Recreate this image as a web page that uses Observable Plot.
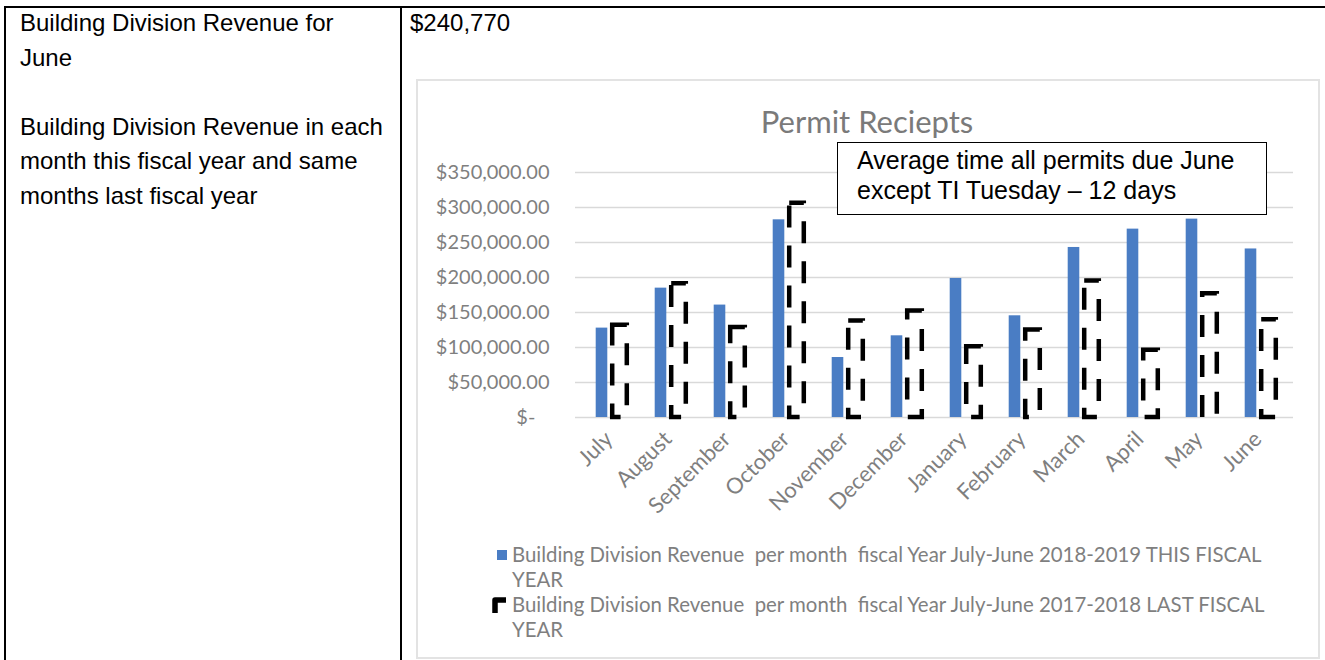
<!DOCTYPE html>
<html>
<head>
<meta charset="utf-8">
<script src="https://cdn.jsdelivr.net/npm/d3@7"></script>
<script src="https://cdn.jsdelivr.net/npm/@observablehq/plot@0.6"></script>
<style>
  html, body { margin: 0; padding: 0; background: #fff; }
  #page { position: relative; width: 1325px; height: 660px; overflow: hidden; background: #fff; }
  .abs { position: absolute; }
  .line { position: absolute; background: #000; }
  .doc { font-family: "Liberation Sans", Arial, sans-serif; font-size: 24px; line-height: 34.5px; color: #000; white-space: nowrap; }
  #chartbox { left: 416px; top: 79px; width: 900px; height: 576px; border: 2px solid #e3e3e3; }
  #title { left: 416px; width: 902px; top: 101px; text-align: center; font-family: Lato, sans-serif; font-size: 31px; line-height: 40px; color: #7a7a7a; }
  #note { left: 837px; top: 142px; width: 428px; height: 71px; border: 1.6px solid #000; background: #fff; }
  #noteText { position: absolute; left: 19px; top: 2px; width: 410px;
              font-family: "Liberation Sans", Arial, sans-serif; font-size: 25px; line-height: 30px; color: #000; white-space: nowrap; }
  .leg { position: absolute; left: 512px; font-family: Lato, sans-serif; font-size: 20.4px; line-height: 25px; color: #7f7f7f; white-space: pre; }
  #plot { left: 416px; top: 79px; }
</style>
</head>
<body>
<div id="page">
  <div class="line" style="left:4px; top:6px; width:1321px; height:2px;"></div>
  <div class="line" style="left:4px; top:6px; width:2px; height:654px;"></div>
  <div class="line" style="left:400px; top:6px; width:2px; height:654px;"></div>

  <div class="abs doc" style="left:20px; top:6px;">Building Division Revenue for<br>June<br><br>Building Division Revenue in each<br>month this fiscal year and same<br>months last fiscal year</div>
  <div class="abs doc" style="left:410px; top:6px;">$240,770</div>

  <div id="chartbox" class="abs"></div>
  <div id="title" class="abs">Permit Reciepts</div>
  <div id="plot" class="abs"></div>
  <div id="note" class="abs"><div id="noteText">Average time all permits due June<br>except TI Tuesday – 12 days</div></div>

  <div class="abs" style="left:497px; top:550px; width:10px; height:10px; background:#4a7dc4;"></div>
  <div class="leg" style="top:542px;">Building Division Revenue  per month  fiscal Year July-June 2018-2019 THIS FISCAL</div>
  <div class="leg" style="top:567px;">YEAR</div>
  <svg class="abs" style="left:491px; top:596px;" width="16" height="18"><path d="M4,17 L4,4 L15,4" fill="none" stroke="#000" stroke-width="5.5" stroke-linejoin="round"/></svg>
  <div class="leg" style="top:592px;">Building Division Revenue  per month  fiscal Year July-June 2017-2018 LAST FISCAL</div>
  <div class="leg" style="top:617px;">YEAR</div>
</div>
<script>
// ---- data ----
const months = ["July","August","September","October","November","December","January","February","March","April","May","June"];
const thisYear = [127700, 184800, 160600, 282400, 85700, 116700, 198600, 145300, 242900, 269100, 283400, 240770];
const lastYear = [131700, 191000, 128600, 306000, 138000, 152000, 101000, 125000, 195000, 96000, 176700, 139600];
const yTicks = [0, 50000, 100000, 150000, 200000, 250000, 300000, 350000];

const rowsThis = months.map((m, i) => ({month: m, value: thisYear[i]}));
const rowsLast = months.map((m, i) => ({month: m, value: lastYear[i]}));

const money = d3.format(",.2f");
const yFmt = d => d === 0 ? "$-\u2007\u2009" : "$" + money(d);

const chart = Plot.plot({
  width: 902,
  height: 445,
  marginLeft: 163,
  marginRight: 26,
  marginTop: 93,
  marginBottom: 107,
  style: {fontFamily: "Lato, sans-serif", fontSize: "20px", color: "#7f7f7f", background: "transparent", overflow: "visible"},
  x: {domain: months, padding: 0, label: null},
  y: {domain: [0, 350000], label: null},
  marks: [
    Plot.ruleY(yTicks, {stroke: "#d9d9d9", strokeWidth: 1.3, insetLeft: -4, insetRight: -1}),
    Plot.barY(rowsThis, {x: "month", y: "value", fill: "#4a7dc4", insetLeft: 13.7, insetRight: 33.7}),
    Plot.barY(rowsLast, {x: "month", y: "value", fill: "none", stroke: "#000", strokeWidth: 4.5,
      strokeDasharray: "22,18", strokeDashoffset: 7, insetLeft: 30.2, insetRight: 14.2}),
    Plot.axisY({ticks: yTicks, tickFormat: yFmt, label: null, tickSize: 0, tickPadding: 30, fontSize: 20}),
    Plot.axisX({label: null, tickRotate: -45, tickSize: 0, tickPadding: 18, dx: -3, fontSize: 22})
  ]
});
document.getElementById("plot").appendChild(chart);
</script>
</body>
</html>
